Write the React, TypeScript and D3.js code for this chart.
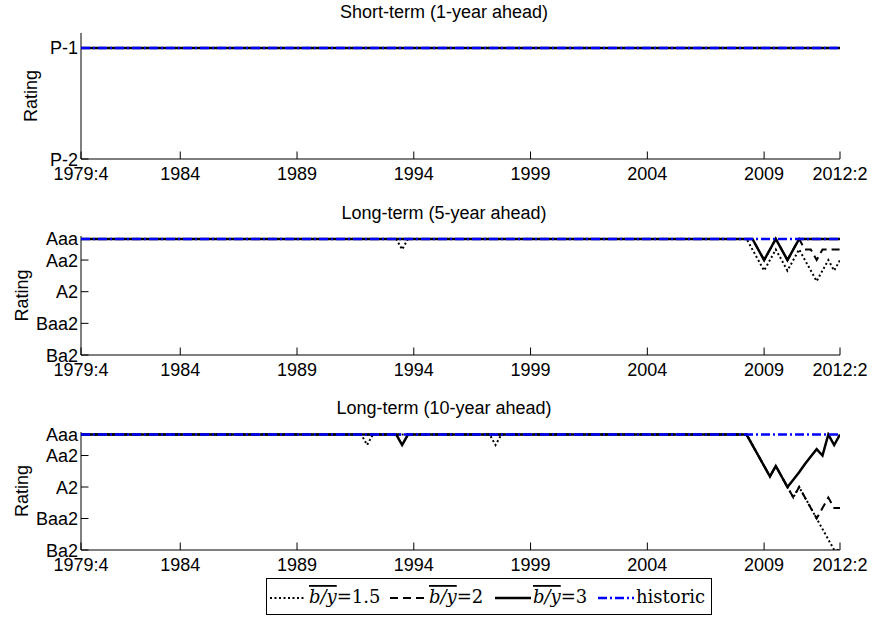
import React from "react";
import * as d3 from "d3";

// ---------- categories (quarters) ----------
const firstQuarter = { year: 1979, q: 4 };
const lastQuarter = { year: 2012, q: 2 };
const quarters: string[] = [];
{
  let y = firstQuarter.year;
  let q = firstQuarter.q;
  while (y < lastQuarter.year || (y === lastQuarter.year && q <= lastQuarter.q)) {
    quarters.push(`${y}:${q}`);
    q += 1;
    if (q > 4) {
      q = 1;
      y += 1;
    }
  }
}

const xTickQuarters = ["1979:4", "1984:1", "1989:1", "1994:1", "1999:1", "2004:1", "2009:1", "2012:2"];
const xTickLabels = ["1979:4", "1984", "1989", "1994", "1999", "2004", "2009", "2012:2"];

const shortTickValues = [1, 2];
const shortTickLabels = ["P-1", "P-2"];
const longTickValues = [1, 3, 6, 9, 12];
const longTickLabels = ["Aaa", "Aa2", "A2", "Baa2", "Ba2"];

type Pt = [string, number];

// ---------- series (rating index: 1 = Aaa / P-1) ----------
// Short-term (1-year ahead)
const short_by15: Pt[] = [["1979:4", 1], ["2012:2", 1]];
const short_by2: Pt[] = [["1979:4", 1], ["2012:2", 1]];
const short_by3: Pt[] = [["1979:4", 1], ["2012:2", 1]];
const short_hist: Pt[] = [["1979:4", 1], ["2012:2", 1]];

// Long-term (5-year ahead)
const mid_by15: Pt[] = [
  ["1979:4", 1], ["1993:2", 1], ["1993:3", 2], ["1993:4", 1],
  ["2008:2", 1], ["2008:3", 2], ["2008:4", 3], ["2009:1", 4], ["2009:2", 3],
  ["2009:3", 2], ["2009:4", 3], ["2010:1", 4], ["2010:2", 3], ["2010:3", 2],
  ["2010:4", 3], ["2011:1", 4], ["2011:2", 5], ["2011:3", 4], ["2011:4", 3],
  ["2012:1", 4], ["2012:2", 3],
];
const mid_by2: Pt[] = [
  ["1979:4", 1], ["2008:3", 1], ["2008:4", 2], ["2009:1", 3], ["2009:2", 2],
  ["2009:3", 1], ["2009:4", 2], ["2010:1", 3], ["2010:2", 2], ["2010:3", 1],
  ["2010:4", 2], ["2011:1", 2], ["2011:2", 3], ["2011:3", 2], ["2011:4", 2],
  ["2012:1", 2], ["2012:2", 2],
];
const mid_by3: Pt[] = [
  ["1979:4", 1], ["2008:3", 1], ["2008:4", 2], ["2009:1", 3], ["2009:2", 2],
  ["2009:3", 1], ["2009:4", 2], ["2010:1", 3], ["2010:2", 2], ["2010:3", 1],
  ["2012:2", 1],
];
const mid_hist: Pt[] = [["1979:4", 1], ["2012:2", 1]];

// Long-term (10-year ahead)
const long_by15: Pt[] = [
  ["1979:4", 1], ["1991:4", 1], ["1992:1", 2], ["1992:2", 1],
  ["1997:2", 1], ["1997:3", 2], ["1997:4", 1],
  ["2008:2", 1], ["2008:3", 2], ["2008:4", 3], ["2009:1", 4], ["2009:2", 5],
  ["2009:3", 4], ["2009:4", 5], ["2010:1", 6], ["2010:2", 7], ["2010:3", 6],
  ["2010:4", 7], ["2011:1", 8], ["2011:2", 9], ["2011:3", 10], ["2011:4", 11],
  ["2012:1", 12], ["2012:2", 12],
];
const long_by2: Pt[] = [
  ["1979:4", 1], ["2008:2", 1], ["2008:3", 2], ["2008:4", 3], ["2009:1", 4],
  ["2009:2", 5], ["2009:3", 4], ["2009:4", 5], ["2010:1", 6], ["2010:2", 7],
  ["2010:3", 6], ["2010:4", 7], ["2011:1", 8], ["2011:2", 9], ["2011:3", 8],
  ["2011:4", 7], ["2012:1", 8], ["2012:2", 8],
];
const long_by3: Pt[] = [
  ["1979:4", 1], ["1993:2", 1], ["1993:3", 2], ["1993:4", 1],
  ["2008:2", 1], ["2008:3", 2], ["2008:4", 3], ["2009:1", 4], ["2009:2", 5],
  ["2009:3", 4], ["2009:4", 5], ["2010:1", 6], ["2010:2", 5.3], ["2010:3", 4.6],
  ["2010:4", 3.8], ["2011:1", 3.1], ["2011:2", 2.4], ["2011:3", 3], ["2011:4", 1],
  ["2012:1", 2], ["2012:2", 1],
];
const long_hist: Pt[] = [["1979:4", 1], ["2012:2", 1]];

// ---------- styling ----------
const W = 873;
const H = 621;
const LEFT = 81;
const RIGHT = 840;
const SANS = "'Liberation Sans', Arial, Helvetica, sans-serif";
const SERIF = "'DejaVu Serif', serif";
const FS = 18;

const styles = [
  { stroke: "#000", width: 2, dash: "2,2.5" },
  { stroke: "#000", width: 2, dash: "8,5" },
  { stroke: "#000", width: 2.5, dash: "none" },
  { stroke: "#0000ff", width: 2.5, dash: "9,3,2,3" },
];

const panels = [
  {
    title: "Short-term (1-year ahead)",
    titleY: 18,
    top: 33,
    bottom: 159,
    yDomain: [0.865, 2],
    ticks: shortTickValues,
    tickLabels: shortTickLabels,
    ylabelX: 30,
    series: [short_by15, short_by2, short_by3, short_hist],
  },
  {
    title: "Long-term (5-year ahead)",
    titleY: 219,
    top: 236,
    bottom: 355,
    yDomain: [0.72, 12],
    ticks: longTickValues,
    tickLabels: longTickLabels,
    ylabelX: 21,
    series: [mid_by15, mid_by2, mid_by3, mid_hist],
  },
  {
    title: "Long-term (10-year ahead)",
    titleY: 414,
    top: 432,
    bottom: 550,
    yDomain: [0.76, 12],
    ticks: longTickValues,
    tickLabels: longTickLabels,
    ylabelX: 21,
    series: [long_by15, long_by2, long_by3, long_hist],
  },
];

const legendItems = [
  { value: "1.5", style: 0, sx: 270, tx: 309 },
  { value: "2", style: 1, sx: 390, tx: 429 },
  { value: "3", style: 2, sx: 495, tx: 533 },
  { value: "historic", style: 3, sx: 598, tx: 636 },
];

export default function App() {
  const x = d3.scalePoint<string>().domain(quarters).range([LEFT, RIGHT]);
  const TICK = 7.5;

  return (
    <svg
      width={W}
      height={H}
      viewBox={`0 0 ${W} ${H}`}
      style={{ position: "absolute", left: 0, top: 0, background: "#fff" }}
    >
      <rect x={0} y={0} width={W} height={H} fill="#fff" />
      {panels.map((p, pi) => {
        // ratings increase downward: best rating at the top
        const y = d3.scaleLinear().domain(p.yDomain).range([p.top, p.bottom]);
        const line = d3
          .line<Pt>()
          .x((d) => x(d[0]) as number)
          .y((d) => y(d[1]));
        const clipId = `clip${pi}`;
        const midY = (p.top + p.bottom) / 2;
        return (
          <g key={pi}>
            <defs>
              <clipPath id={clipId}>
                <rect x={LEFT} y={p.top} width={RIGHT - LEFT} height={p.bottom - p.top} />
              </clipPath>
            </defs>
            <text
              x={444}
              y={p.titleY}
              textAnchor="middle"
              fontFamily={SANS}
              fontSize={FS}
              fill="#000"
            >
              {p.title}
            </text>
            {/* axes */}
            <line x1={LEFT} x2={LEFT} y1={p.top} y2={p.bottom} stroke="#000" strokeWidth={1} />
            <line x1={LEFT} x2={RIGHT} y1={p.bottom} y2={p.bottom} stroke="#000" strokeWidth={1} />
            {xTickQuarters.map((q, i) => (
              <g key={q}>
                <line
                  x1={x(q)}
                  x2={x(q)}
                  y1={p.bottom}
                  y2={p.bottom - TICK}
                  stroke="#000"
                  strokeWidth={1}
                />
                <text
                  x={x(q)}
                  y={p.bottom + 21}
                  textAnchor="middle"
                  fontFamily={SANS}
                  fontSize={FS}
                  fill="#000"
                >
                  {xTickLabels[i]}
                </text>
              </g>
            ))}
            {p.ticks.map((t, i) => (
              <g key={t}>
                <line x1={LEFT} x2={LEFT + TICK} y1={y(t)} y2={y(t)} stroke="#000" strokeWidth={1} />
                <text
                  x={LEFT - 3}
                  y={y(t) + 6.5}
                  textAnchor="end"
                  fontFamily={SANS}
                  fontSize={FS}
                  fill="#000"
                >
                  {p.tickLabels[i]}
                </text>
              </g>
            ))}
            <text
              transform={`translate(${p.ylabelX + 6.5},${midY}) rotate(-90)`}
              textAnchor="middle"
              fontFamily={SANS}
              fontSize={FS}
              fill="#000"
            >
              Rating
            </text>
            <g clipPath={`url(#${clipId})`}>
              {p.series.map((s, si) => (
                <path
                  key={si}
                  d={line(s) || ""}
                  fill="none"
                  stroke={styles[si].stroke}
                  strokeWidth={styles[si].width}
                  strokeDasharray={styles[si].dash}
                  strokeLinejoin="miter"
                />
              ))}
            </g>
          </g>
        );
      })}
      {/* legend */}
      <rect x={266.5} y={578.5} width={445} height={36} fill="#fff" stroke="#000" strokeWidth={1} />
      {legendItems.map((it, i) => (
        <g key={i}>
          <line
            x1={it.sx}
            x2={it.sx + 36}
            y1={598}
            y2={598}
            stroke={styles[it.style].stroke}
            strokeWidth={styles[it.style].width}
            strokeDasharray={styles[it.style].dash}
          />
          {it.value === "historic" ? (
            <text x={it.tx} y={603} fontFamily={SERIF} fontSize={FS} fill="#000">
              historic
            </text>
          ) : (
            <text x={it.tx} y={603} fontFamily={SERIF} fontSize={FS} fill="#000">
              <tspan fontStyle="italic" textDecoration="overline">
                b/y
              </tspan>
              <tspan>={it.value}</tspan>
            </text>
          )}
        </g>
      ))}
    </svg>
  );
}
